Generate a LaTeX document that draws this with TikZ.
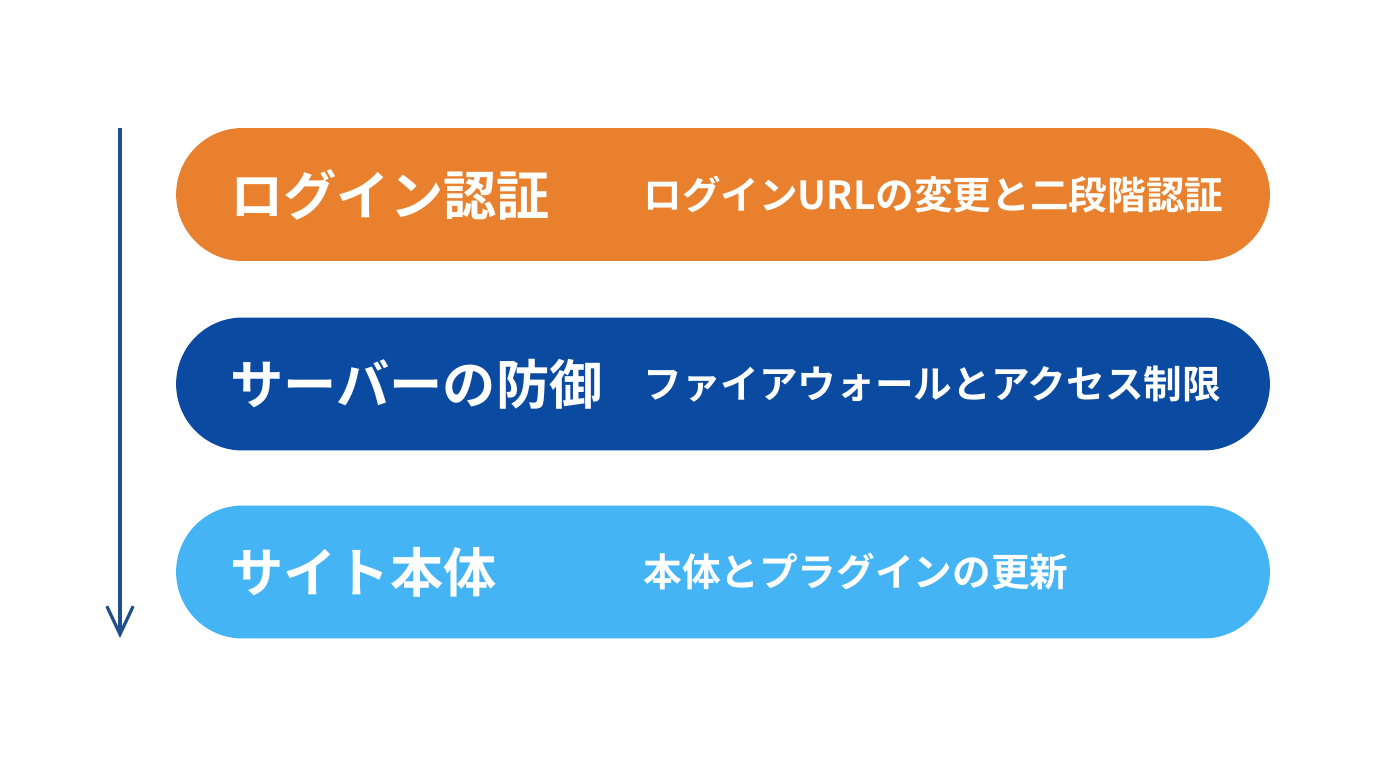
\documentclass[tikz,border=0pt]{standalone}
\usepackage{fontspec}
\newfontfamily\jpbold{Noto Sans CJK JP Bold}
\usepackage{tikz}
\usetikzlibrary{calc}
\usetikzlibrary{arrows.meta}

\definecolor{loginorange}{HTML}{E8802E}
\definecolor{serverblue}{HTML}{0A4AA0}
\definecolor{siteblue}{HTML}{45B4F5}
\definecolor{flowblue}{HTML}{1F4E8C}

\tikzset{
  pill/.style={rectangle,rounded corners=1.33cm,minimum width=21.88cm,minimum height=2.66cm,inner sep=0},
  title/.style={anchor=west,inner sep=0,text=white,font=\jpbold\fontsize{30.3}{33}\selectfont},
  detail/.style={anchor=west,inner sep=0,text=white,font=\jpbold\fontsize{22}{26}\selectfont}
}

\begin{document}
\begin{tikzpicture}[x=0.02cm,y=-0.02cm]
      \useasboundingbox[fill=white] (0,0) rectangle (1376,768);
      % layers
      \node[pill,fill=loginorange] (login) at (723,194.5) {};
      \node[pill,fill=serverblue] (server) at (723,384) {};
      \node[pill,fill=siteblue] (site) at (723,572) {};
      \node[title] (logint) at (230,195) {ログイン認証};
      \node[detail] (logind) at (643,195) {ログインURLの変更と二段階認証};
      \node[title] (servert) at (230,384) {サーバーの防御};
      \node[detail] (serverd) at (643,384) {ファイアウォールとアクセス制限};
      \node[title] (sitet) at (230,572) {サイト本体};
      \node[detail] (sited) at (643,572) {本体とプラグインの更新};
      % flow arrow
      \coordinate (top) at (120,128);
      \coordinate (bottom) at (120,638);
      \draw[flowblue,line width=1.8pt,-{Straight Barb[length=16pt,width=15pt,line width=1.8pt]}] (top) -- (bottom);
\end{tikzpicture}
\end{document}
